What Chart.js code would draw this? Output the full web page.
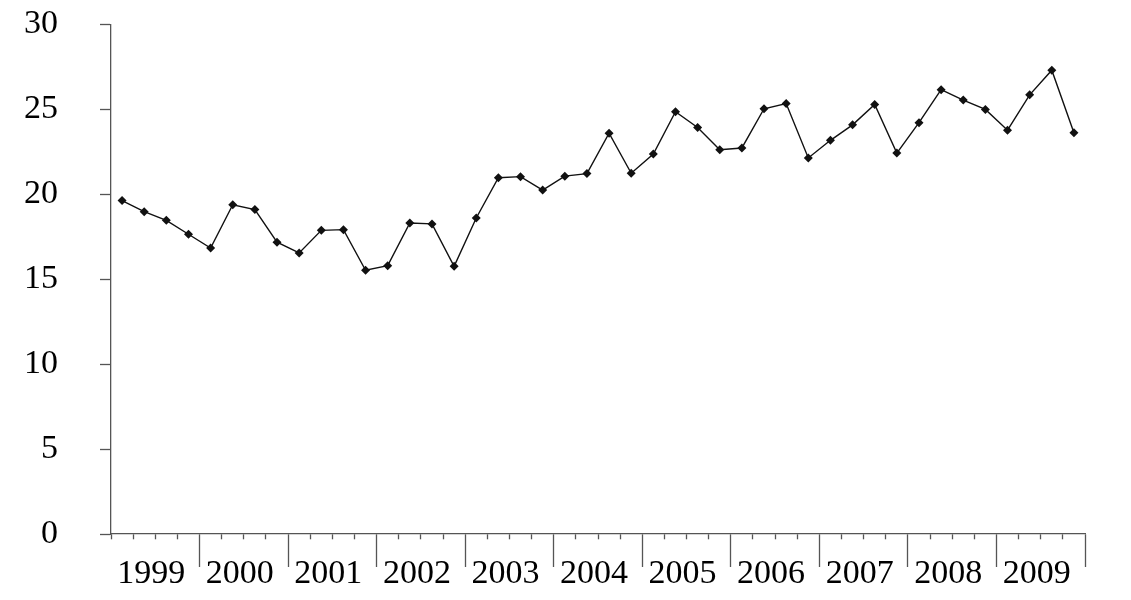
<!DOCTYPE html>
<html lang="en">
  <head>
    <meta charset="UTF-8" />
    <title>Quarterly series 1999-2009</title>
    <script src="https://cdn.jsdelivr.net/npm/chart.js"></script>
    <style>
      html,
      body {
        margin: 0;
        padding: 0;
        background: #fff;
      }
      .chart-box {
        width: 1131px;
        height: 600px;
      }
    </style>
  </head>
  <body>
    <div class="chart-box">
      <canvas id="quarterChart"></canvas>
    </div>

    <script>
      // Years shown under the axis, four quarters each
      const years = ["1999", "2000", "2001", "2002", "2003", "2004", "2005", "2006", "2007", "2008", "2009"];
      const quartersPerYear = 4;

      // Quarterly values (one row per year)
      const values = [
        19.63, 18.98, 18.47, 17.65,
        16.84, 19.39, 19.1, 17.18,
        16.55, 17.88, 17.92, 15.53,
        15.8, 18.31, 18.26, 15.76,
        18.61, 20.98, 21.04, 20.25,
        21.07, 21.22, 23.6, 21.24,
        22.37, 24.86, 23.94, 22.63,
        22.73, 25.04, 25.35, 22.14,
        23.18, 24.09, 25.29, 22.43,
        24.22, 26.16, 25.55, 25.0,
        23.78, 25.86, 27.31, 23.62,
      ];

      // Y axis ticks
      const yMin = 0;
      const yMax = 30;
      const yStep = 5;

      const axisColor = "#555";
      const serif = "'Liberation Serif', 'Times New Roman', serif";
      const quarterCount = years.length * quartersPerYear;

      // points sit at 0..n-1, boundaries at the half steps
      const points = values.map((v, i) => ({ x: i, y: v }));

      const ctx = document.getElementById("quarterChart").getContext("2d");
      const quarterChart = new Chart(ctx, {
        type: "line",
        data: {
          datasets: [
            {
              data: points,
              borderColor: "#111",
              borderWidth: 1.4,
              backgroundColor: "#111",
              pointStyle: "rectRot",
              pointRadius: 4.5,
              pointBorderWidth: 0,
              tension: 0,
              fill: false,
            },
          ],
        },
        options: {
          responsive: true,
          maintainAspectRatio: false,
          animation: false,
          layout: {
            padding: { top: 24.5, right: 46, bottom: 0, left: 0 },
          },
          plugins: {
            legend: { display: false },
            tooltip: { enabled: false },
          },
          scales: {
            x: {
              type: "linear",
              min: -0.5,
              max: quarterCount - 0.5,
              afterBuildTicks: (scale) => {
                // one tick at each quarter boundary
                const ticks = [];
                for (let b = 0; b <= quarterCount; b++) {
                  ticks.push({ value: b - 0.5 });
                }
                scale.ticks = ticks;
              },
              afterFit: (scale) => {
                scale.height = 66;
                scale.paddingLeft = 0;
                scale.paddingRight = 0;
              },
              border: { color: axisColor, width: 1.3 },
              grid: {
                drawOnChartArea: false,
                tickLength: 33,
                tickWidth: 1.3,
                tickColor: axisColor,
                // short marks for quarters, long ones between years
                tickBorderDash: (c) =>
                  c.index > 0 && c.index % quartersPerYear === 0 ? [] : [5, 100],
              },
              ticks: {
                autoSkip: false,
                maxRotation: 0,
                minRotation: 0,
                padding: -10,
                labelOffset: -4,
                color: "#000",
                font: { family: serif, size: 34, lineHeight: 1 },
                callback: (value, index) =>
                  index % quartersPerYear === 2 ? years[(index - 2) / quartersPerYear] : "",
              },
            },
            y: {
              min: yMin,
              max: yMax,
              afterFit: (scale) => {
                scale.width = 111;
                scale.paddingTop = 0;
                scale.paddingBottom = 0;
              },
              border: { color: axisColor, width: 1.3 },
              grid: {
                drawOnChartArea: false,
                tickLength: 11,
                tickWidth: 1.3,
                tickColor: axisColor,
              },
              ticks: {
                stepSize: yStep,
                padding: 42,
                color: "#000",
                font: { family: serif, size: 34 },
              },
            },
          },
        },
      });
    </script>
  </body>
</html>
